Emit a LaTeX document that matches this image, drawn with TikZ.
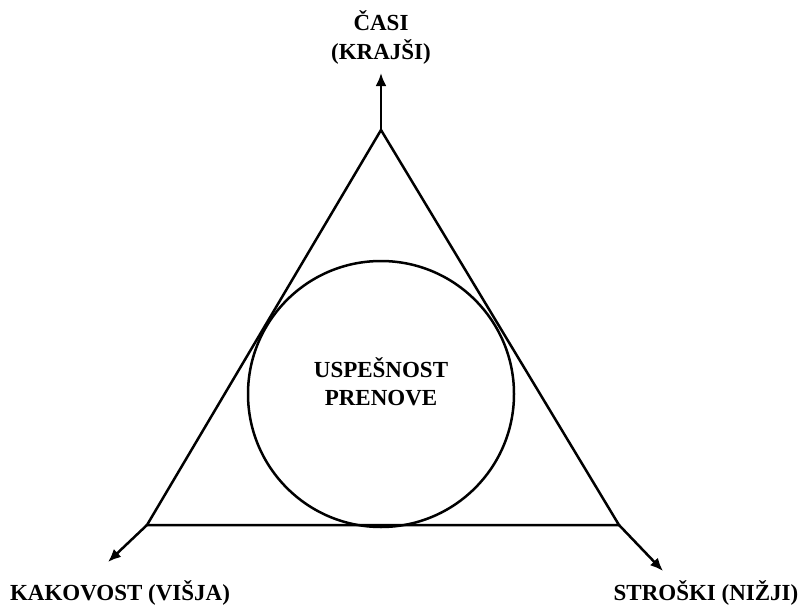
\documentclass[tikz,border=0pt]{standalone}
\usepackage{fontspec}
\setmainfont{Liberation Serif}
\usetikzlibrary{arrows.meta}
\begin{document}
\begin{tikzpicture}[x=1pt,y=-1pt,
  edge/.style={line width=2.5pt, line join=miter},
  axis/.style={line width=2.5pt, -{Latex[length=13pt,width=11pt]}},
  lbl/.style={font=\fontsize{23}{28}\selectfont\bfseries, inner sep=0pt, align=center}]
  \useasboundingbox (0,0) rectangle (798,605);
  % triangle corners
  \coordinate (T) at (381,130);
  \coordinate (L) at (147,525);
  \coordinate (R) at (619,525);
  % free ends of the three axes
  \coordinate (Tt) at (381,73);
  \coordinate (Lt) at (108,562);
  \coordinate (Rt) at (663,571);
  \draw[edge] (T) -- (L) -- (R) -- cycle;
  \draw[line width=2.5pt] (381,394) circle[radius=133];
  \draw[axis] (T) -- (Tt);
  \draw[axis] (L) -- (Lt);
  \draw[axis] (R) -- (Rt);
  % labels
  \node[lbl, anchor=base] (casi) at (381,30) {ČASI};
  \node[lbl, anchor=base] (krajsi) at (381,59) {(KRAJŠI)};
  \node[lbl, anchor=base] (kak) at (120,600) {KAKOVOST (VIŠJA)};
  \node[lbl, anchor=base] (stro) at (706,600) {STROŠKI (NIŽJI)};
  \node[lbl, anchor=base] (usp) at (381,377) {USPEŠNOST};
  \node[lbl, anchor=base] (pren) at (381,405) {PRENOVE};
\end{tikzpicture}
\end{document}
